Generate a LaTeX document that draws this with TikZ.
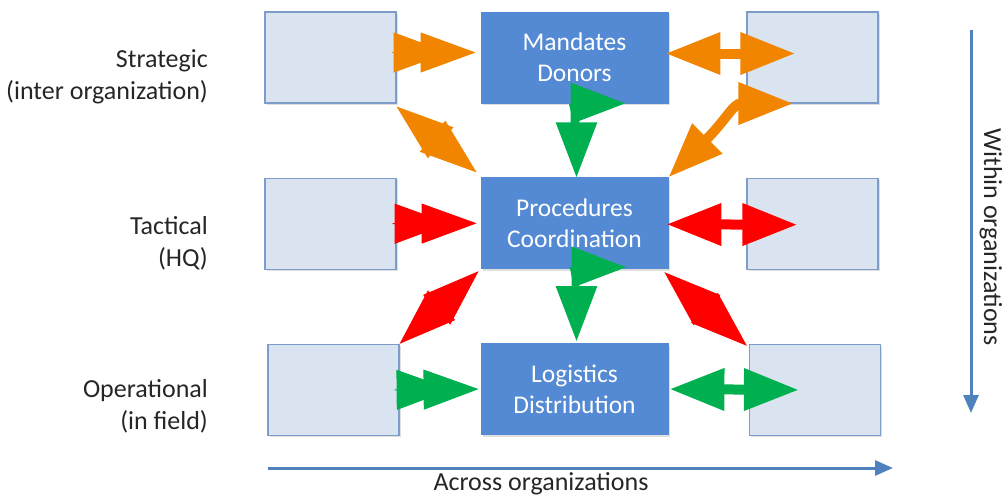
\documentclass[tikz,border=0pt]{standalone}
\usepackage{fontspec}
\setmainfont{Carlito}
\usetikzlibrary{positioning}
\usetikzlibrary{arrows.meta}
\usetikzlibrary{shadows}

\definecolor{boxlight}{RGB}{218,227,240}
\definecolor{boxedge}{RGB}{126,156,201}
\definecolor{boxdark}{RGB}{84,138,212}
\definecolor{arrorange}{RGB}{242,133,0}
\definecolor{arrred}{RGB}{255,0,0}
\definecolor{arrgreen}{RGB}{0,176,80}
\definecolor{axisblue}{RGB}{79,129,189}
\definecolor{labelgray}{RGB}{38,38,38}

\begin{document}
\begin{tikzpicture}[x=1pt,y=-1pt]
				\tikzset{shade/.style = {drop shadow={shadow xshift=1.5pt,shadow yshift=-2pt,opacity=.25}}}
				\tikzset{outer/.style = {shape=rectangle, fill=boxlight, draw=boxedge, line width=1.2pt, minimum width=131pt, minimum height=91pt, inner sep=0pt, shade}}
				\tikzset{inner/.style = {shape=rectangle, fill=boxdark, draw=boxdark, line width=0.8pt, minimum width=187pt, minimum height=91pt, inner sep=0pt, align=center, text=white, font=\fontsize{25.5}{31}\selectfont, shade}}
				\tikzset{level/.style = {align=right, text=labelgray, font=\fontsize{26}{32}\selectfont}}
				\tikzset{axis/.style = {draw=axisblue, line width=3pt, -{Triangle[length=18pt,width=15pt]}}}
				\tikzset{twoway/.style = {line width=10pt, {Triangle[length=55pt,width=40pt]}-{Triangle[length=55pt,width=40pt]}}}
				\tikzset{diamond/.style = {line width=1pt, {Triangle[length=57pt,width=40pt]}-{Triangle[length=57pt,width=40pt]}}}
				\tikzset{double/.style = {line width=1pt, -{Triangle[length=55pt,width=40pt,sep=-28pt]Triangle[length=55pt,width=40pt]}}}
				\useasboundingbox (0,0) rectangle (1005,498);
				
				\node[outer] (STRAT) at (330.5,57.5) {};
				\node[inner, right=84pt of STRAT] (MANDATES) {Mandates\\Donors};
				\node[outer, right=78pt of MANDATES] (STRATOUT) {};
				\node[outer, below=74pt of STRAT] (TACT) {};
				\node[inner, below=74pt of MANDATES] (PROCEDURES) {Procedures\\Coordination};
				\node[outer, below=74pt of STRATOUT] (TACTOUT) {};
				\node[outer, below=74pt of TACT, xshift=3pt] (OPER) {};
				\node[inner, below=74pt of PROCEDURES] (LOGISTICS) {Logistics\\Distribution};
				\node[outer, below=74pt of TACTOUT, xshift=2.5pt] (OPEROUT) {};
				
				\node[level, left=53pt of STRAT, yshift=-19pt] (STRATLBL) {Strategic\\(inter organization)};
				\node[level, left=53pt of TACT, yshift=-20pt] (TACTLBL) {Tactical\\(HQ)};
				\node[level, left=56pt of OPER, yshift=-16pt] (OPERLBL) {Operational\\(in field)};
				
				% strategic level
				\draw[double, arrorange, fill=arrorange] ([shift={(-5pt,5pt)}]STRAT.east) -- ([shift={(-5pt,5pt)}]MANDATES.west);
				\draw[twoway, arrorange] ([shift={(-3pt,4pt)}]MANDATES.east) -- ([shift={(49pt,4pt)}]STRATOUT.west);
				\draw[diamond, arrorange, fill=arrorange] ([yshift=-3pt]STRAT.south east) -- ([shift={(-4pt,5pt)}]PROCEDURES.north west);
				\draw[twoway, arrorange] (PROCEDURES.north east) .. controls +(58,-58) and +(-60,0) .. ([shift={(47pt,-46pt)}]STRATOUT.west);
				\draw[twoway, arrgreen, line width=6pt] ([xshift=51pt]MANDATES.south) .. controls +(-54,0) and +(0,-58) .. ([xshift=2pt]PROCEDURES.north);
				
				% tactical level
				\draw[double, arrred, fill=arrred] ([shift={(-4pt,0pt)}]TACT.east) -- ([shift={(-4pt,0pt)}]PROCEDURES.west);
				\draw[twoway, arrred] ([shift={(-2pt,-1pt)}]PROCEDURES.east) -- ([shift={(51pt,-1pt)}]TACTOUT.west);
				\draw[diamond, arrred, fill=arrred] (OPER.north east) -- ([shift={(-2pt,-2pt)}]PROCEDURES.south west);
				\draw[diamond, arrred, fill=arrred] ([shift={(-4pt,-3pt)}]PROCEDURES.south east) -- ([shift={(-2pt,-2pt)}]OPEROUT.north west);
				\draw[twoway, arrgreen, line width=6pt] ([shift={(52pt,2pt)}]PROCEDURES.south) .. controls +(-54,0) and +(0,-58) .. ([shift={(2pt,2pt)}]LOGISTICS.north);
				
				% operational level
				\draw[double, arrgreen, fill=arrgreen] ([shift={(-5pt,0pt)}]OPER.east) -- ([shift={(-2pt,0pt)}]LOGISTICS.west);
				\draw[twoway, arrgreen] ([xshift=1pt]LOGISTICS.east) -- ([shift={(50pt,0pt)}]OPEROUT.west);
				
				\coordinate (WTOP) at (971,30);
				\coordinate (WBOT) at (971,413);
				\draw[axis] (WTOP) -- (WBOT);
				\node[level, rotate=-90] (WITHIN) at (991,237) {Within organizations};
				\coordinate (ALEFT) at (268,468);
				\coordinate (ARIGHT) at (893,468);
				\draw[axis] (ALEFT) -- (ARIGHT);
				\node[level] (ACROSS) at (541,484) {Across organizations};
\end{tikzpicture}
\end{document}
